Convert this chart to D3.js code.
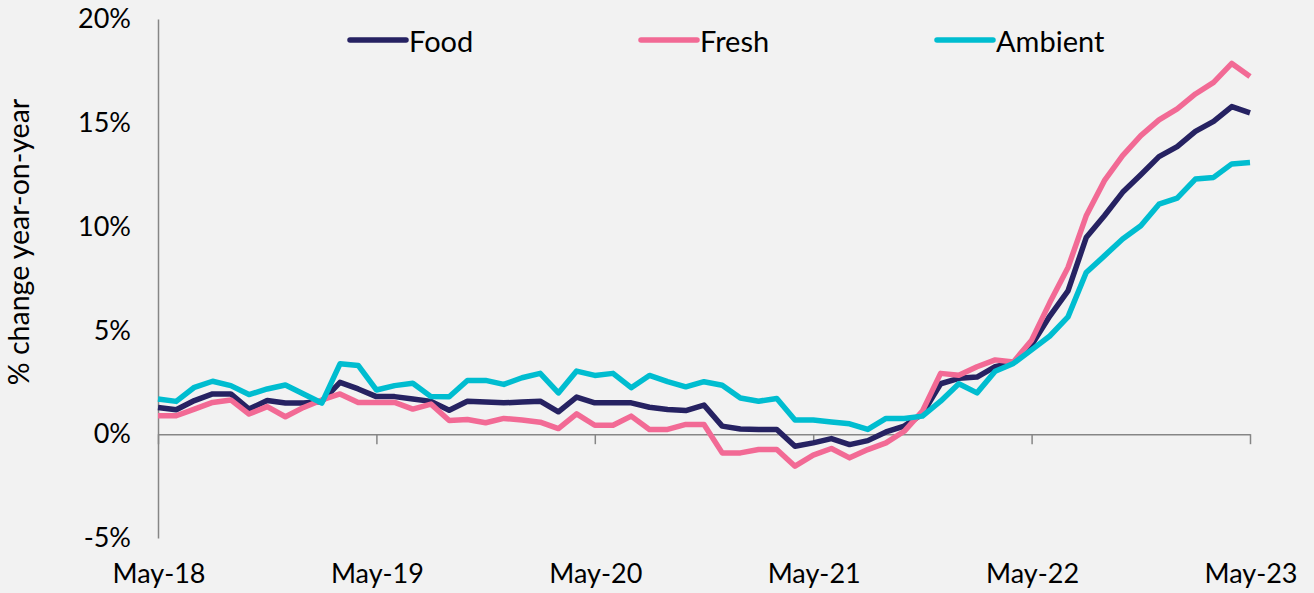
<!DOCTYPE html>
<html>
<head>
<meta charset="utf-8">
<script src="https://cdn.jsdelivr.net/npm/d3@7"></script>
<style>
  body { margin: 0; background: #f2f2f2; }
  svg { display: block; font-family: Lato, "Open Sans", sans-serif; }
</style>
</head>
<body>
<div id="chart"></div>
<script>
// monthly categories, May-18 .. May-23
const months = d3.timeMonth.range(new Date(2018, 4, 1), new Date(2023, 5, 1))
  .map(d3.timeFormat("%b-%y"));

const food = [1.29, 1.18, 1.62, 1.94, 1.94, 1.21, 1.62, 1.50, 1.50, 1.58,
  2.50, 2.18, 1.81, 1.81, 1.70, 1.58, 1.15, 1.59, 1.55, 1.51,
  1.55, 1.59, 1.08, 1.79, 1.51, 1.51, 1.51, 1.30, 1.19, 1.14,
  1.40, 0.39, 0.25, 0.23, 0.23, -0.58, -0.42, -0.21, -0.50, -0.31,
  0.11, 0.39, 0.98, 2.43, 2.69, 2.75, 3.25, 3.45, 4.30, 5.69,
  6.90, 9.47, 10.52, 11.65, 12.50, 13.37, 13.85, 14.59, 15.07, 15.78, 15.48];

const fresh = [0.89, 0.89, 1.21, 1.53, 1.65, 0.97, 1.33, 0.84, 1.29, 1.65,
  1.94, 1.53, 1.53, 1.53, 1.21, 1.45, 0.66, 0.71, 0.55, 0.76,
  0.68, 0.58, 0.27, 0.98, 0.43, 0.43, 0.87, 0.23, 0.23, 0.47,
  0.47, -0.90, -0.90, -0.74, -0.74, -1.54, -1.01, -0.69, -1.14, -0.74,
  -0.42, 0.14, 1.11, 2.93, 2.84, 3.25, 3.58, 3.48, 4.53, 6.34,
  8.03, 10.52, 12.21, 13.42, 14.38, 15.14, 15.67, 16.39, 16.95, 17.86, 17.23];

const ambient = [1.70, 1.58, 2.26, 2.55, 2.34, 1.91, 2.18, 2.37, 1.94, 1.50,
  3.39, 3.31, 2.13, 2.34, 2.45, 1.81, 1.80, 2.59, 2.59, 2.40,
  2.72, 2.93, 1.99, 3.04, 2.83, 2.93, 2.24, 2.83, 2.53, 2.28,
  2.53, 2.36, 1.74, 1.59, 1.72, 0.68, 0.68, 0.59, 0.50, 0.23,
  0.76, 0.76, 0.87, 1.59, 2.43, 1.99, 3.03, 3.41, 4.06, 4.73,
  5.65, 7.79, 8.59, 9.40, 10.04, 11.08, 11.37, 12.29, 12.37, 13.02, 13.09];

const yTicks = [-5, 0, 5, 10, 15, 20];
const xTicks = ["May-18", "May-19", "May-20", "May-21", "May-22", "May-23"];

const series = [
  {name: "Food", values: food, color: "#262262", lx: 350},
  {name: "Fresh", values: fresh, color: "#f26a95", lx: 641},
  {name: "Ambient", values: ambient, color: "#00bdd0", lx: 937}
];

// set the dimensions of the canvas
let margin = {top: 19, right: 64, bottom: 55, left: 158},
    W = 1314, H = 593,
    width = W - margin.left - margin.right,
    height = H - margin.top - margin.bottom;

let svg = d3.select("#chart").append("svg")
  .attr("width", W)
  .attr("height", H);

let g = svg.append("g")
  .attr("transform", "translate(" + margin.left + "," + margin.top + ")");

let x = d3.scalePoint().domain(months).range([0, width]);
let y = d3.scaleLinear().domain([-5, 20]).range([height, 0]);

const axisColor = "#868686";

// y axis: plain line, labels on the left
let yAxis = g.append("g")
  .call(d3.axisLeft(y).tickValues(yTicks).tickSize(0).tickPadding(27)
    .tickFormat(d => d + "%"));
yAxis.select(".domain").attr("stroke", axisColor).attr("stroke-width", 1.5);
yAxis.selectAll("text")
  .attr("font-size", 27)
  .attr("fill", "#000")
  .attr("font-family", "Lato, sans-serif");

// x axis sits on the 0% line
let xAxis = g.append("g")
  .attr("transform", "translate(0," + y(0) + ")")
  .call(d3.axisBottom(x).tickValues(xTicks).tickSize(10).tickSizeOuter(0).tickFormat(""));
xAxis.select(".domain").attr("stroke", axisColor).attr("stroke-width", 1.5);
xAxis.selectAll(".tick line").attr("stroke", axisColor).attr("stroke-width", 1.5);

// x labels at the bottom of the plot
g.append("g").selectAll("text")
  .data(xTicks)
  .enter()
  .append("text")
  .attr("x", d => x(d) + 1)
  .attr("y", height + 45)
  .attr("text-anchor", "middle")
  .attr("font-size", 27)
  .attr("fill", "#000")
  .text(d => d);

// y axis title
svg.append("text")
  .attr("transform", "translate(29," + 242 + ") rotate(-90)")
  .attr("text-anchor", "middle")
  .attr("font-size", 28.5)
  .attr("fill", "#000")
  .text("% change year-on-year");

let line = d3.line()
  .x((d, i) => x(months[i]))
  .y(d => y(d));

g.selectAll(".series")
  .data(series)
  .enter()
  .append("path")
  .attr("class", "series")
  .attr("fill", "none")
  .attr("stroke", d => d.color)
  .attr("stroke-width", 5.5)
  .attr("stroke-linejoin", "round")
  .attr("d", d => line(d.values));

// legend
let leg = svg.append("g").selectAll("g")
  .data(series)
  .enter()
  .append("g")
  .attr("transform", d => "translate(" + d.lx + ",40)");
leg.append("line")
  .attr("x1", 0).attr("x2", 56)
  .attr("stroke", d => d.color)
  .attr("stroke-width", 5.5)
  .attr("stroke-linecap", "round");
leg.append("text")
  .attr("x", 59)
  .attr("y", 12)
  .attr("font-size", 29)
  .attr("fill", "#000")
  .text(d => d.name);
</script>
</body>
</html>
